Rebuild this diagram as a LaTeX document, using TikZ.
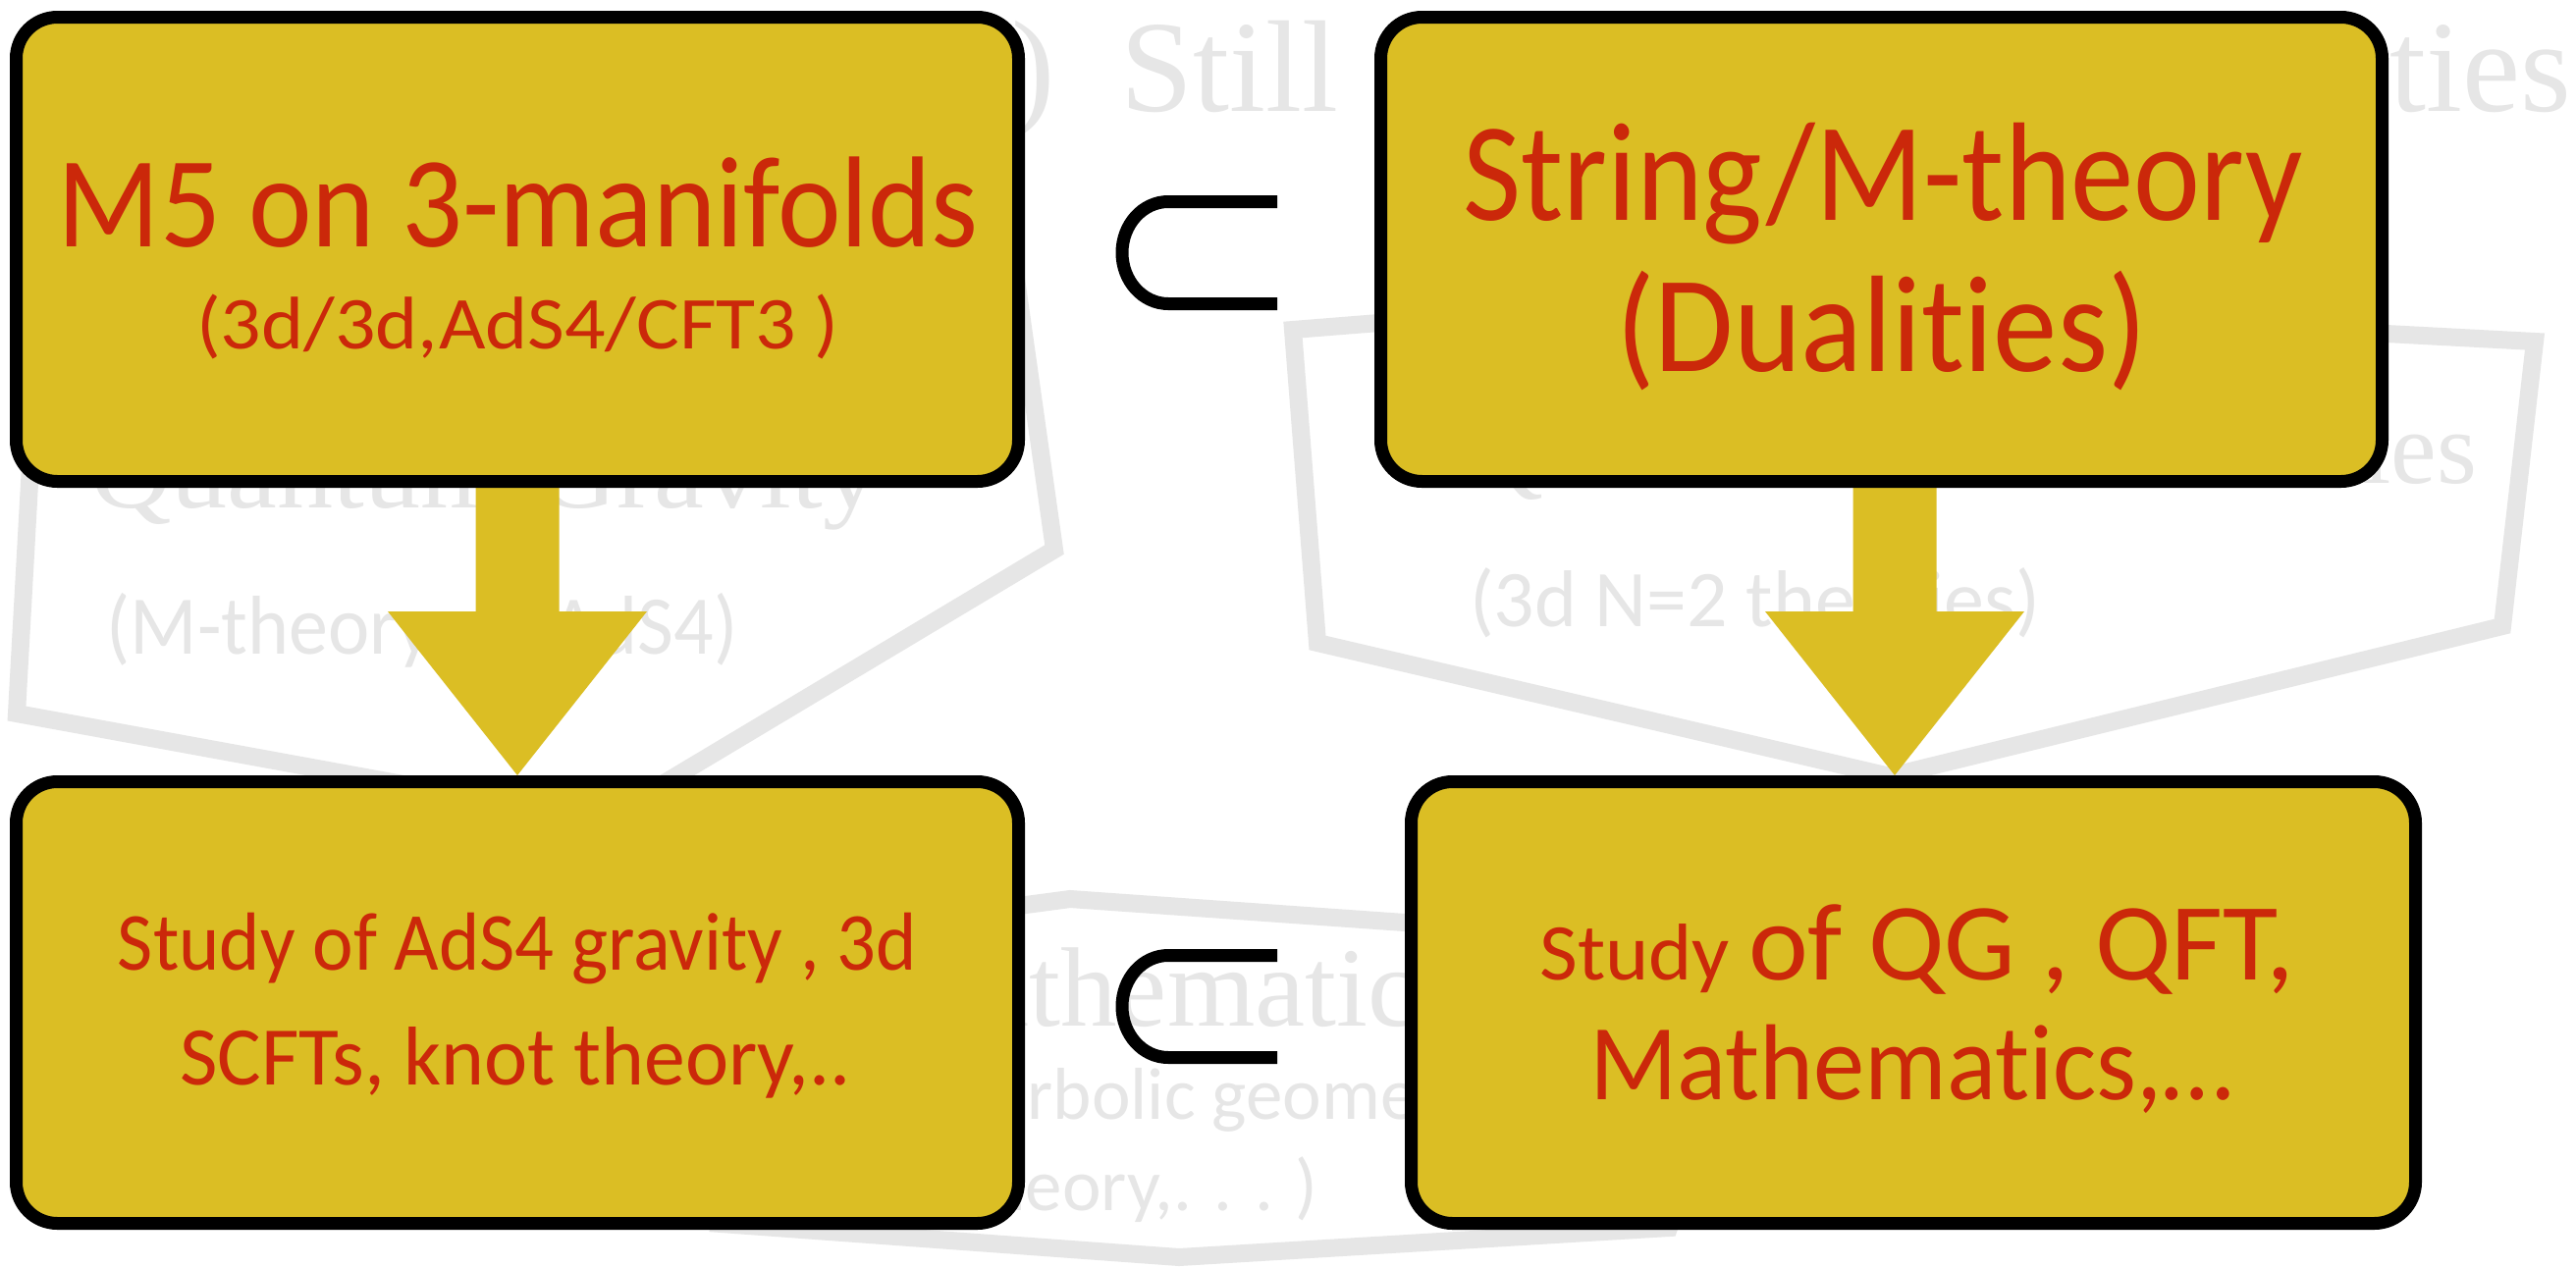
\documentclass[tikz,border=0pt]{standalone}
\usepackage{fontspec}
\usepackage{graphicx}
\setmainfont{Liberation Serif}
\newfontfamily\cardfont[Ligatures=NoCommon]{Carlito}
\usetikzlibrary{calc}

\definecolor{cardgold}{RGB}{219,190,36}
\definecolor{cardred}{RGB}{203,40,10}
\definecolor{ghostgray}{RGB}{230,230,230}

% font size in pt, line spacing equal to it
\newcommand{\fsz}[1]{\fontsize{#1}{#1}\selectfont}
% set a line to a given width, keeping its height
\newcommand{\fitline}[2]{\resizebox{#1}{\height}{#2}}
% thick block arrow: shaft from #1 down, head ending at #2
\newcommand{\blockarrow}[2]{%
  \fill[arrowfill] ($(#1)+(-42.5,-10)$) -- ($(#1)+(42.5,-10)$) -- ($(#1)+(42.5,126)$)
    -- ($(#1)+(132,126)$) -- (#2) -- ($(#1)+(-132,126)$) -- ($(#1)+(-42.5,126)$) -- cycle;}

\pgfdeclarelayer{ghost}
\pgfdeclarelayer{arrows}
\pgfsetlayers{ghost,arrows,main}

\tikzset{
  card/.style={draw=black, line width=13pt, fill=cardgold, rounded corners=42pt, inner sep=0pt},
  cardtext/.style={text=cardred, font=\cardfont, anchor=base, inner sep=0pt},
  ghosttext/.style={text=ghostgray, inner sep=0pt},
  ghostline/.style={draw=ghostgray, line width=18pt},
  arrowfill/.style={fill=cardgold},
  subsetline/.style={draw=black, line width=13pt}
}

\begin{document}
\begin{tikzpicture}[x=1pt,y=-1pt]
\useasboundingbox (0,0) rectangle (2624,1291);

% the four cards
\node[card, minimum width=1021pt, minimum height=473pt] (b1) at (527,254) {};
\node[card, minimum width=1020pt, minimum height=473pt] (b2) at (1916.5,254) {};
\node[card, minimum width=1021pt, minimum height=450pt] (b3) at (527,1021.5) {};
\node[card, minimum width=1023pt, minimum height=450pt] (b4) at (1949,1021.5) {};

\coordinate (tipR) at ($(b4.north)+(-19,0)$);
\coordinate (startR) at (b2.south -| tipR);

% faded earlier content underneath
\begin{pgfonlayer}{ghost}
  \fill[white] (0,0) rectangle (2624,1291);
  \draw[ghostline] (54,60) -- (17,727) -- (613,836) -- (1074,560) -- (1009,100) -- cycle;
  \draw[ghostline] (1317,336) -- (1731,303) -- (2582,348) -- (2549,638) -- (1925,791) -- (1342,655) -- cycle;
  \draw[ghostline] (850,948) -- (1090,916) -- (1800,966) -- (1700,1251) -- (1201,1281) -- (735,1247) -- cycle;

  \node[ghosttext, anchor=base west, font=\fsz{133}] (gparen) at (1030,113) {)};
  \node[ghosttext, anchor=base west, font=\fsz{133}] (gstill) at (1141,113) {Still};
  \node[ghosttext, anchor=base west, font=\fsz{133}] (gties) at (2434,113) {ties};
  \node[ghosttext, anchor=base west, font=\fsz{105}] (gqg) at (92,517) {\fitline{803pt}{Quantum Gravity}};
  \node[ghosttext, anchor=base east, font=\fsz{105}] (gqft) at (2523,492) {Quantum Field Theories};
  \node[ghosttext, anchor=base, font=\cardfont\fsz{85}] (gmads) at (430,666) {\fitline{643pt}{(M-theory on AdS4)}};
  \node[ghosttext, anchor=base, font=\cardfont\fsz{82}] (gntwo) at (1787.5,638) {\fitline{581pt}{(3d N=2 theories)}};
  \node[ghosttext, anchor=base west, font=\fsz{115}] (gmath) at (895,1045) {Mathematics};
  \node[ghosttext, anchor=base west, font=\cardfont\fsz{75}] (ghyp) at (875,1140) {(hyperbolic geometry,};
  \node[ghosttext, anchor=base east, font=\cardfont\fsz{75}] (gknot) at (1343,1233) {knot theory,. . . )};
\end{pgfonlayer}

% block arrows between the cards
\begin{pgfonlayer}{arrows}
  \blockarrow{b1.south}{b3.north}
  \blockarrow{startR}{tipR}
\end{pgfonlayer}

% subset signs between the columns
\draw[subsetline] (1301,205.5) -- (1190,205.5)
  arc[start angle=270, end angle=90, x radius=47, y radius=52] -- (1301,309.5);
\draw[subsetline] (1301,973.5) -- (1190,973.5)
  arc[start angle=270, end angle=90, x radius=47, y radius=52] -- (1301,1077.5);

% card texts
\node[cardtext] (t1a) at (528,251) {\fsz{132}\fitline{938pt}{M5 on 3-manifolds}};
\node[cardtext] (t1b) at (527.5,355) {\fsz{76}\fitline{655pt}{(3d/3d,AdS4/CFT3 )}};
\node[cardtext] (t2a) at (1918,224) {\fsz{143}\fitline{855pt}{String/M-theory}};
\node[cardtext] (t2b) at (1916.5,378) {\fsz{140}\fitline{541pt}{(Dualities)}};
\node[cardtext] (t3a) at (527,988) {\fsz{84}\fitline{814pt}{Study of AdS4 gravity , 3d}};
\node[cardtext] (t3b) at (525,1105) {\fsz{85}\fitline{684pt}{SCFTs, knot theory,..}};
\node[cardtext] (t4a) at (1953,998) {\fitline{769pt}{\fsz{82}Study \fsz{112}of QG , QFT,}};
\node[cardtext] (t4b) at (1947,1120) {\fsz{110}\fitline{656pt}{Mathematics,…}};
\end{tikzpicture}
\end{document}
